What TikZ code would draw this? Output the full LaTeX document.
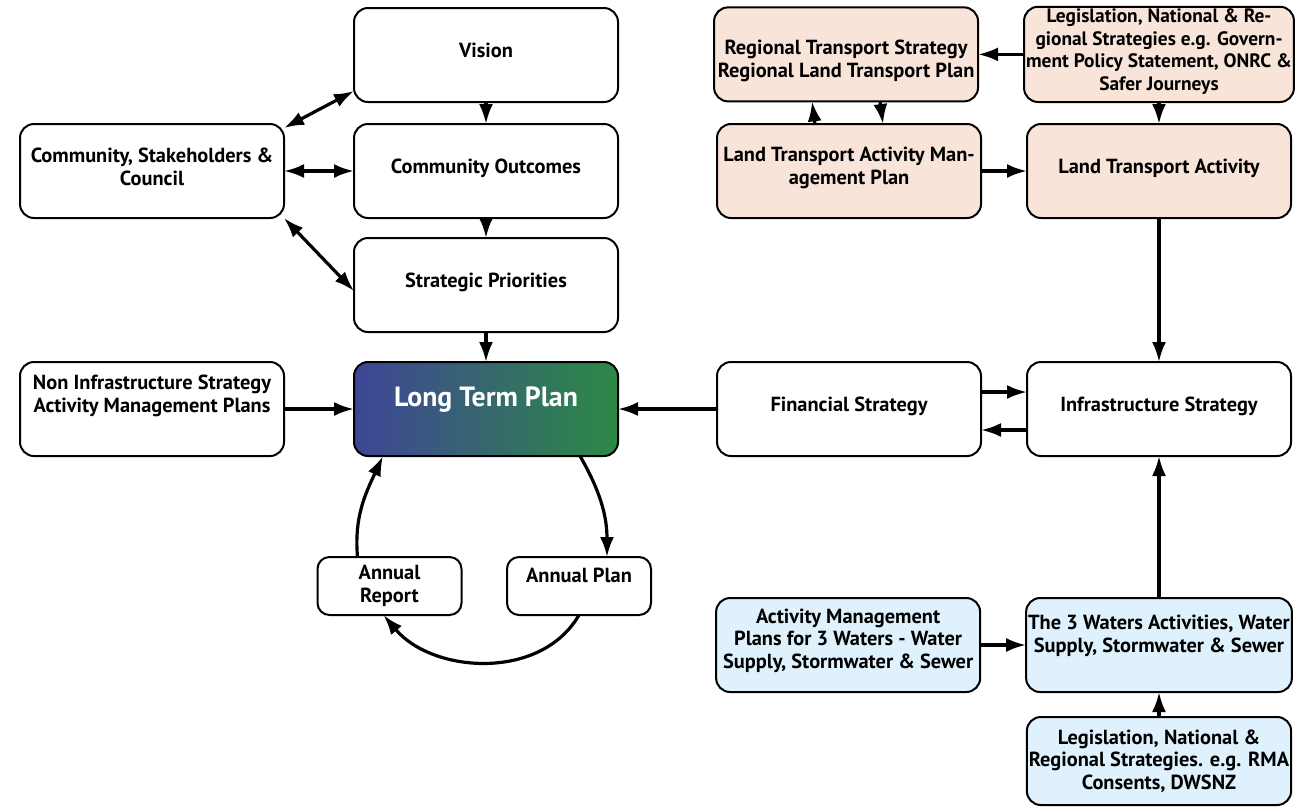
\documentclass[tikz,border=0pt]{standalone}
\usepackage{fontspec}
\setmainfont{PT Sans}
\usepackage{xcolor}
\usepackage{tikz}
\usetikzlibrary{arrows.meta,positioning,shapes,calc}

\definecolor{peach}{HTML}{F9E4DA}
\definecolor{waterblue}{HTML}{DFF1FC}
\definecolor{ltpblue}{HTML}{3F4597}
\definecolor{ltpgreen}{HTML}{2C8A45}

\begin{document}
\begin{tikzpicture}[
    x=0.5pt, y=-0.5pt,
    block/.style={rectangle, rounded corners=7pt, draw, line width=1pt, align=center,
        minimum width=132pt, minimum height=47pt, inner sep=1pt, outer sep=0pt,
        font=\bfseries\fontsize{10.2}{11.3}\selectfont},
    single/.style={text height=7.5pt, text depth=5.4pt},
    road/.style={block, fill=peach},
    water/.style={block, fill=waterblue},
    annual/.style={block, rounded corners=6pt, minimum width=72pt, minimum height=29pt},
    arr/.style={-{Latex[length=10pt,width=7pt]}, line width=1.6pt},
    darr/.style={{Latex[length=10pt,width=7pt]}-{Latex[length=10pt,width=7pt]}, line width=1.6pt}
]
    \useasboundingbox (0,0) rectangle (1303,811);

    % Council planning chain
    \node[block, single] (vision) at (486,55) {Vision};
    \node[block, single, below=11pt of vision] (outc) {Community Outcomes};
    \node[block, single, below=10pt of outc] (prio) {Strategic Priorities};
    \node[block, below=15pt of prio, left color=ltpblue, right color=ltpgreen, text=white,
        font=\bfseries\fontsize{13.9}{16}\selectfont, text depth=12pt] (ltp) {Long Term Plan};

    \node[block, left=35pt of outc, text depth=4.5pt] (comm) {Community, Stakeholders \&\\Council};
    \node[block, left=35pt of ltp, text depth=15.2pt] (nonin) {Non Infrastructure Strategy\\Activity Management Plans};

    % Strategies
    \node[block, single, right=49.5pt of ltp] (fin) {Financial Strategy};
    \node[block, single, right=23pt of fin] (infra) {Infrastructure Strategy};

    % Land transport
    \node[road, single, above=72pt of infra] (lta) {Land Transport Activity};
    \node[road, above=11pt of lta, text depth=4.8pt,
        font=\bfseries\fontsize{9.7}{11.3}\selectfont] (legis) {Legislation, National \& Re-\\gional Strategies e.g. Govern-\\ment Policy Statement, ONRC \&\\Safer Journeys};
    \node[road, left=23pt of lta, text depth=5.5pt] (ltamp) {Land Transport Activity Man-\\agement Plan};
    \node[road, left=23pt of legis, text height=25pt] (rts) {Regional Transport Strategy\\Regional Land Transport Plan};

    % Three waters
    \node[water, below=71pt of infra, text depth=11.5pt] (waters) {The 3 Waters Activities, Water\\Supply, Stormwater \& Sewer};
    \node[water, left=23pt of waters, text depth=6.3pt] (wamp) {Activity Management\\Plans for 3 Waters - Water\\Supply, Stormwater \& Sewer};
    \node[water, below=12.5pt of waters, minimum height=44pt] (wlegis) {Legislation, National \&\\Regional Strategies. e.g. RMA\\Consents, DWSNZ};

    % Annual cycle
    \node[annual] (areport) at (389.5,586) {Annual\\Report};
    \node[annual, text depth=11pt] (aplan) at (579,586) {Annual Plan};

    \draw[darr] ([yshift=-2pt]comm.north east) -- ([yshift=-18pt]vision.west);
    \draw[darr] (comm) -- (outc);
    \draw[darr] (comm.south east) -- ([yshift=-3pt]prio.west);
    \draw[arr] (vision) -- (outc);
    \draw[arr] (outc) -- (prio);
    \draw[arr] (prio) -- (ltp);
    \draw[arr] (nonin) -- (ltp);
    \draw[arr] (fin) -- (ltp);

    \draw[arr] ([xshift=47pt]ltp.south) to[out=-60, in=90] ([xshift=14pt]aplan.north);
    \draw[arr] (aplan.south) to[out=-120, in=-50] ([xshift=-3pt]areport.south);
    \draw[arr] ([xshift=-16pt]areport.north) to[out=95, in=-115] ([xshift=-51.5pt]ltp.south);

    \draw[arr] (legis) -- (rts);
    \draw[arr] ([xshift=-17pt]ltamp.north) -- ([xshift=-17pt]rts.south);
    \draw[arr] ([xshift=17pt]rts.south) -- ([xshift=17pt]ltamp.north);
    \draw[arr] (legis) -- (lta);
    \draw[arr] (ltamp) -- (lta);
    \draw[arr] (lta) -- (infra);
    \draw[arr] ([yshift=8.5pt]fin.east) -- ([yshift=8.5pt]infra.west);
    \draw[arr] ([yshift=-10.5pt]infra.west) -- ([yshift=-10.5pt]fin.east);
    \draw[arr] (waters) -- (infra);
    \draw[arr] (wamp) -- (waters);
    \draw[arr] (wlegis) -- (waters);
\end{tikzpicture}
\end{document}
